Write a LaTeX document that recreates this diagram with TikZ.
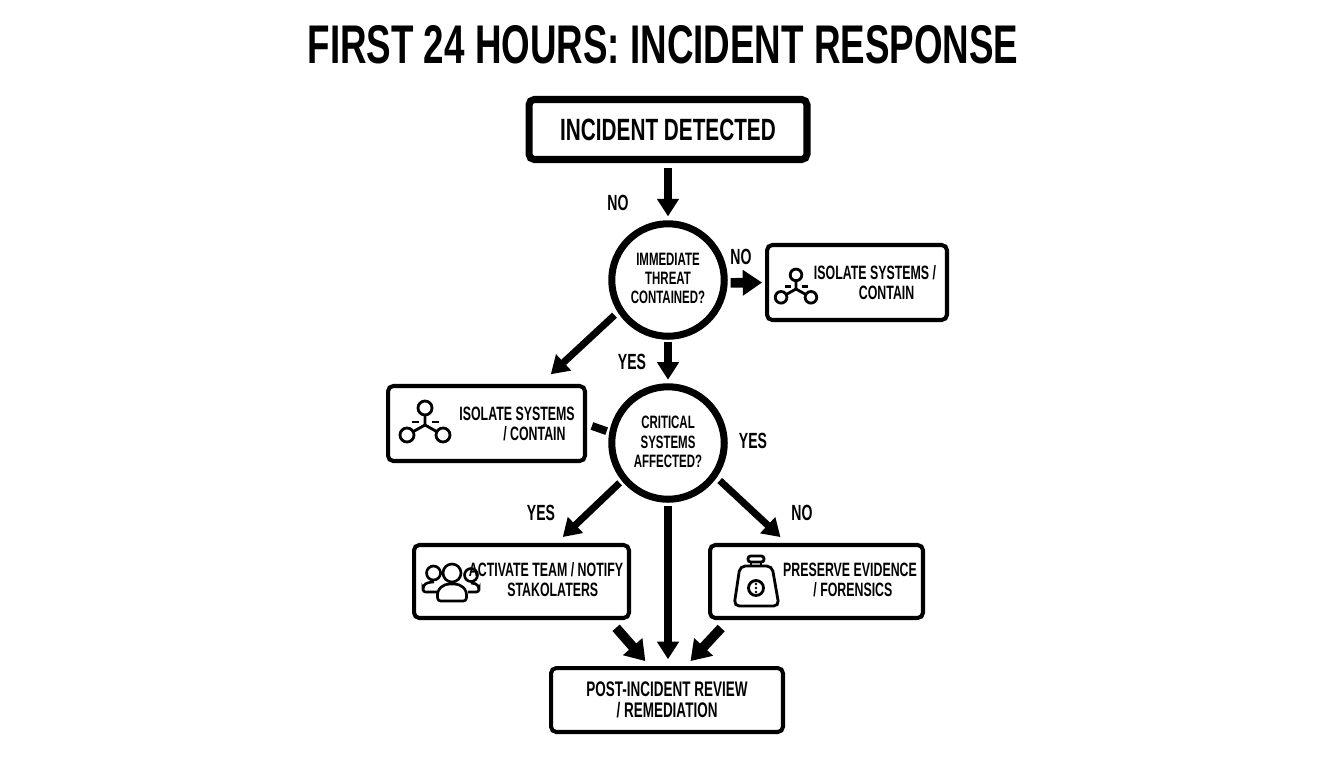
\documentclass[tikz,border=0pt]{standalone}
\usepackage{fontspec}
\setmainfont{Liberation Sans}[FakeStretch=0.64]
\newfontfamily\headfont{Liberation Sans}[FakeStretch=0.675]
\usetikzlibrary{arrows.meta}
\tikzset{
    heavybox/.style={draw,line width=4pt,rounded corners=3pt,outer sep=0pt,inner sep=0pt,minimum width=5.56cm,minimum height=1.2cm},
    flowbox/.style={draw,line width=2.3pt,rounded corners=3pt,outer sep=0pt,inner sep=0pt},
    decision/.style={draw,circle,line width=4pt,outer sep=0pt,inner sep=0pt,minimum size=2.25cm},
    flowtext/.style={align=center,inner sep=0pt,font=\fontsize{11}{11.4}\selectfont\bfseries},
    asktext/.style={align=center,inner sep=0pt,font=\fontsize{10.2}{11}\selectfont\bfseries},
    choice/.style={inner sep=0pt,font=\fontsize{12.5}{13}\selectfont\bfseries},
    flow/.style={line width=4pt,-{Triangle[length=10pt,width=12pt]}},
    fatflow/.style={line width=5.5pt,-{Triangle[length=11pt,width=14pt]}},
    hub/.pic={
        \draw[line width=1.6pt] (0,-17) circle (7) (-18,10) circle (7) (18,10) circle (7);
        \draw[line width=1.6pt] (0,-10) -- (0,0) (-12,6.7) -- (0,0) -- (12,6.7);
        \draw[line width=1.6pt] (-13,-3) -- (-6,-3) (7,-3) -- (14,-3);
    },
    people/.pic={
        \draw[line width=1.5pt] (0,-17) circle (9) (-18.5,-17) circle (7) (19,-15) circle (6.5);
        \draw[line width=1.5pt,rounded corners=1.5pt] (-14,11) .. controls (-16,-2) and (-8,-6) .. (0,-6) .. controls (8,-6) and (16,-2) .. (14,11) -- cycle;
        \draw[line width=1.5pt,rounded corners=1.5pt] (-15,2) -- (-29,2) -- (-29,-2) .. controls (-27,-7) and (-22,-8) .. (-18,-8);
        \draw[line width=1.5pt,rounded corners=1.5pt] (16,2) -- (27,2) -- (27,-2) .. controls (25,-6) and (22,-7) .. (19,-7);
    },
    weight/.pic={
        \draw[line width=1.6pt,rounded corners=3pt] (-16,-19) -- (16,-19) -- (23,21) -- (-22,21) -- cycle;
        \draw[line width=1.6pt,rounded corners=1.5pt] (-8,-29) rectangle (8,-23);
        \draw[line width=1.6pt] (-5,-23) -- (-5,-19) (5,-23) -- (5,-19);
        \draw[line width=1.6pt] (0,3) circle (7.5);
        \fill (0,-1) circle (1.3) (0,3) circle (1.3) (0,7) circle (1.3);
    }
}
\begin{document}
\begin{tikzpicture}[x=0.02cm,y=-0.02cm]
        \useasboundingbox (0,0) rectangle (1344,768);
        \node[inner sep=0pt,font=\fontsize{31}{31}\selectfont\headfont\bfseries] (title) at (663,45) {FIRST 24 HOURS: INCIDENT RESPONSE};
        \node[heavybox] (detected) at (668,129.5) {};
        \node[decision] (thrcheck) at (668,280) {};
        \node[decision] (crit) at (668,443) {};
        \node[flowbox,minimum width=3.6cm,minimum height=1.5cm] (isoright) at (857,282.5) {};
        \node[flowbox,minimum width=3.94cm,minimum height=1.5cm] (isoleft) at (486.5,423.5) {};
        \node[flowbox,minimum width=4.3cm,minimum height=1.46cm] (team) at (521.5,581.5) {};
        \node[flowbox,minimum width=4.26cm,minimum height=1.46cm] (evid) at (816.5,581.5) {};
        \node[flowbox,minimum width=4.64cm,minimum height=1.28cm] (review) at (667,700) {};
        \draw[flow,shorten <=5pt,shorten >=4.2pt] (detected.south) -- (thrcheck.north);
        \draw[fatflow,shorten <=3.7pt,shorten >=2.8pt] (thrcheck.-3) -- (isoright.west);
        \draw[flow,shorten <=3.1pt,shorten >=4pt] (thrcheck.south) -- (crit.north);
        \draw[flow,shorten <=4.5pt,shorten >=9.8pt] (thrcheck.212.6) -- (isoleft.36.3);
        \draw[line width=4.5pt,shorten <=4.2pt,shorten >=3.6pt] (isoleft.east) -- (crit.170);
        \draw[flow,shorten <=3.7pt,shorten >=6.6pt] (crit.219.4) -- (team.48.8);
        \draw[flow,shorten <=4pt,shorten >=5pt] (crit.south) -- (crit.south |- review.north);
        \draw[flow,shorten <=4.4pt,shorten >=6.6pt] (crit.325.7) -- (evid.127.6);
        \draw[fatflow,shorten <=7.4pt,shorten >=5.2pt] (team.337.2) -- (review.116.6);
        \draw[fatflow,shorten <=7.8pt,shorten >=5.4pt] (evid.203.2) -- (review.62);
        \node[inner sep=0pt,font=\fontsize{17.5}{17.5}\selectfont\headfont\bfseries] (detectedtxt) at (668,130) {INCIDENT DETECTED};
        \node[asktext] (thrtxt) at (668,278.5) {IMMEDIATE\\THREAT\\CONTAINED?};
        \node[asktext] (crittxt) at (668,442) {CRITICAL\\SYSTEMS\\AFFECTED?};
        \node[flowtext] (isorighttxt) at (875,283) {ISOLATE SYSTEMS /\\\hspace*{1.2em}CONTAIN};
        \node[flowtext] (islefttxt) at (517,424) {ISOLATE SYSTEMS\\\hspace*{1.8em}/ CONTAIN};
        \node[flowtext] (teamtxt) at (546,580) {ACTIVATE TEAM / NOTIFY\\\hspace*{0.7em}STAKOLATERS};
        \node[flowtext] (evidtxt) at (850,580) {PRESERVE EVIDENCE\\\hspace*{0.3em}/ FORENSICS};
        \node[flowtext,font=\fontsize{12}{12}\selectfont\bfseries] (reviewtxt) at (667,699.5) {POST-INCIDENT REVIEW\\/ REMEDIATION};
        \node[choice] (nodetected) at (618,203) {NO};
        \node[choice] (noiso) at (741,257) {NO};
        \node[choice] (yescrit) at (632,362) {YES};
        \node[choice] (yesright) at (753,441) {YES};
        \node[choice] (yesteam) at (541,513) {YES};
        \node[choice] (noevid) at (802,513) {NO};
        \pic at (796,289) [scale=0.83] {hub};
        \pic at (425,425) {hub};
        \pic at (452,590) {people};
        \pic at (756,585) {weight};
    \end{tikzpicture}
\end{document}
